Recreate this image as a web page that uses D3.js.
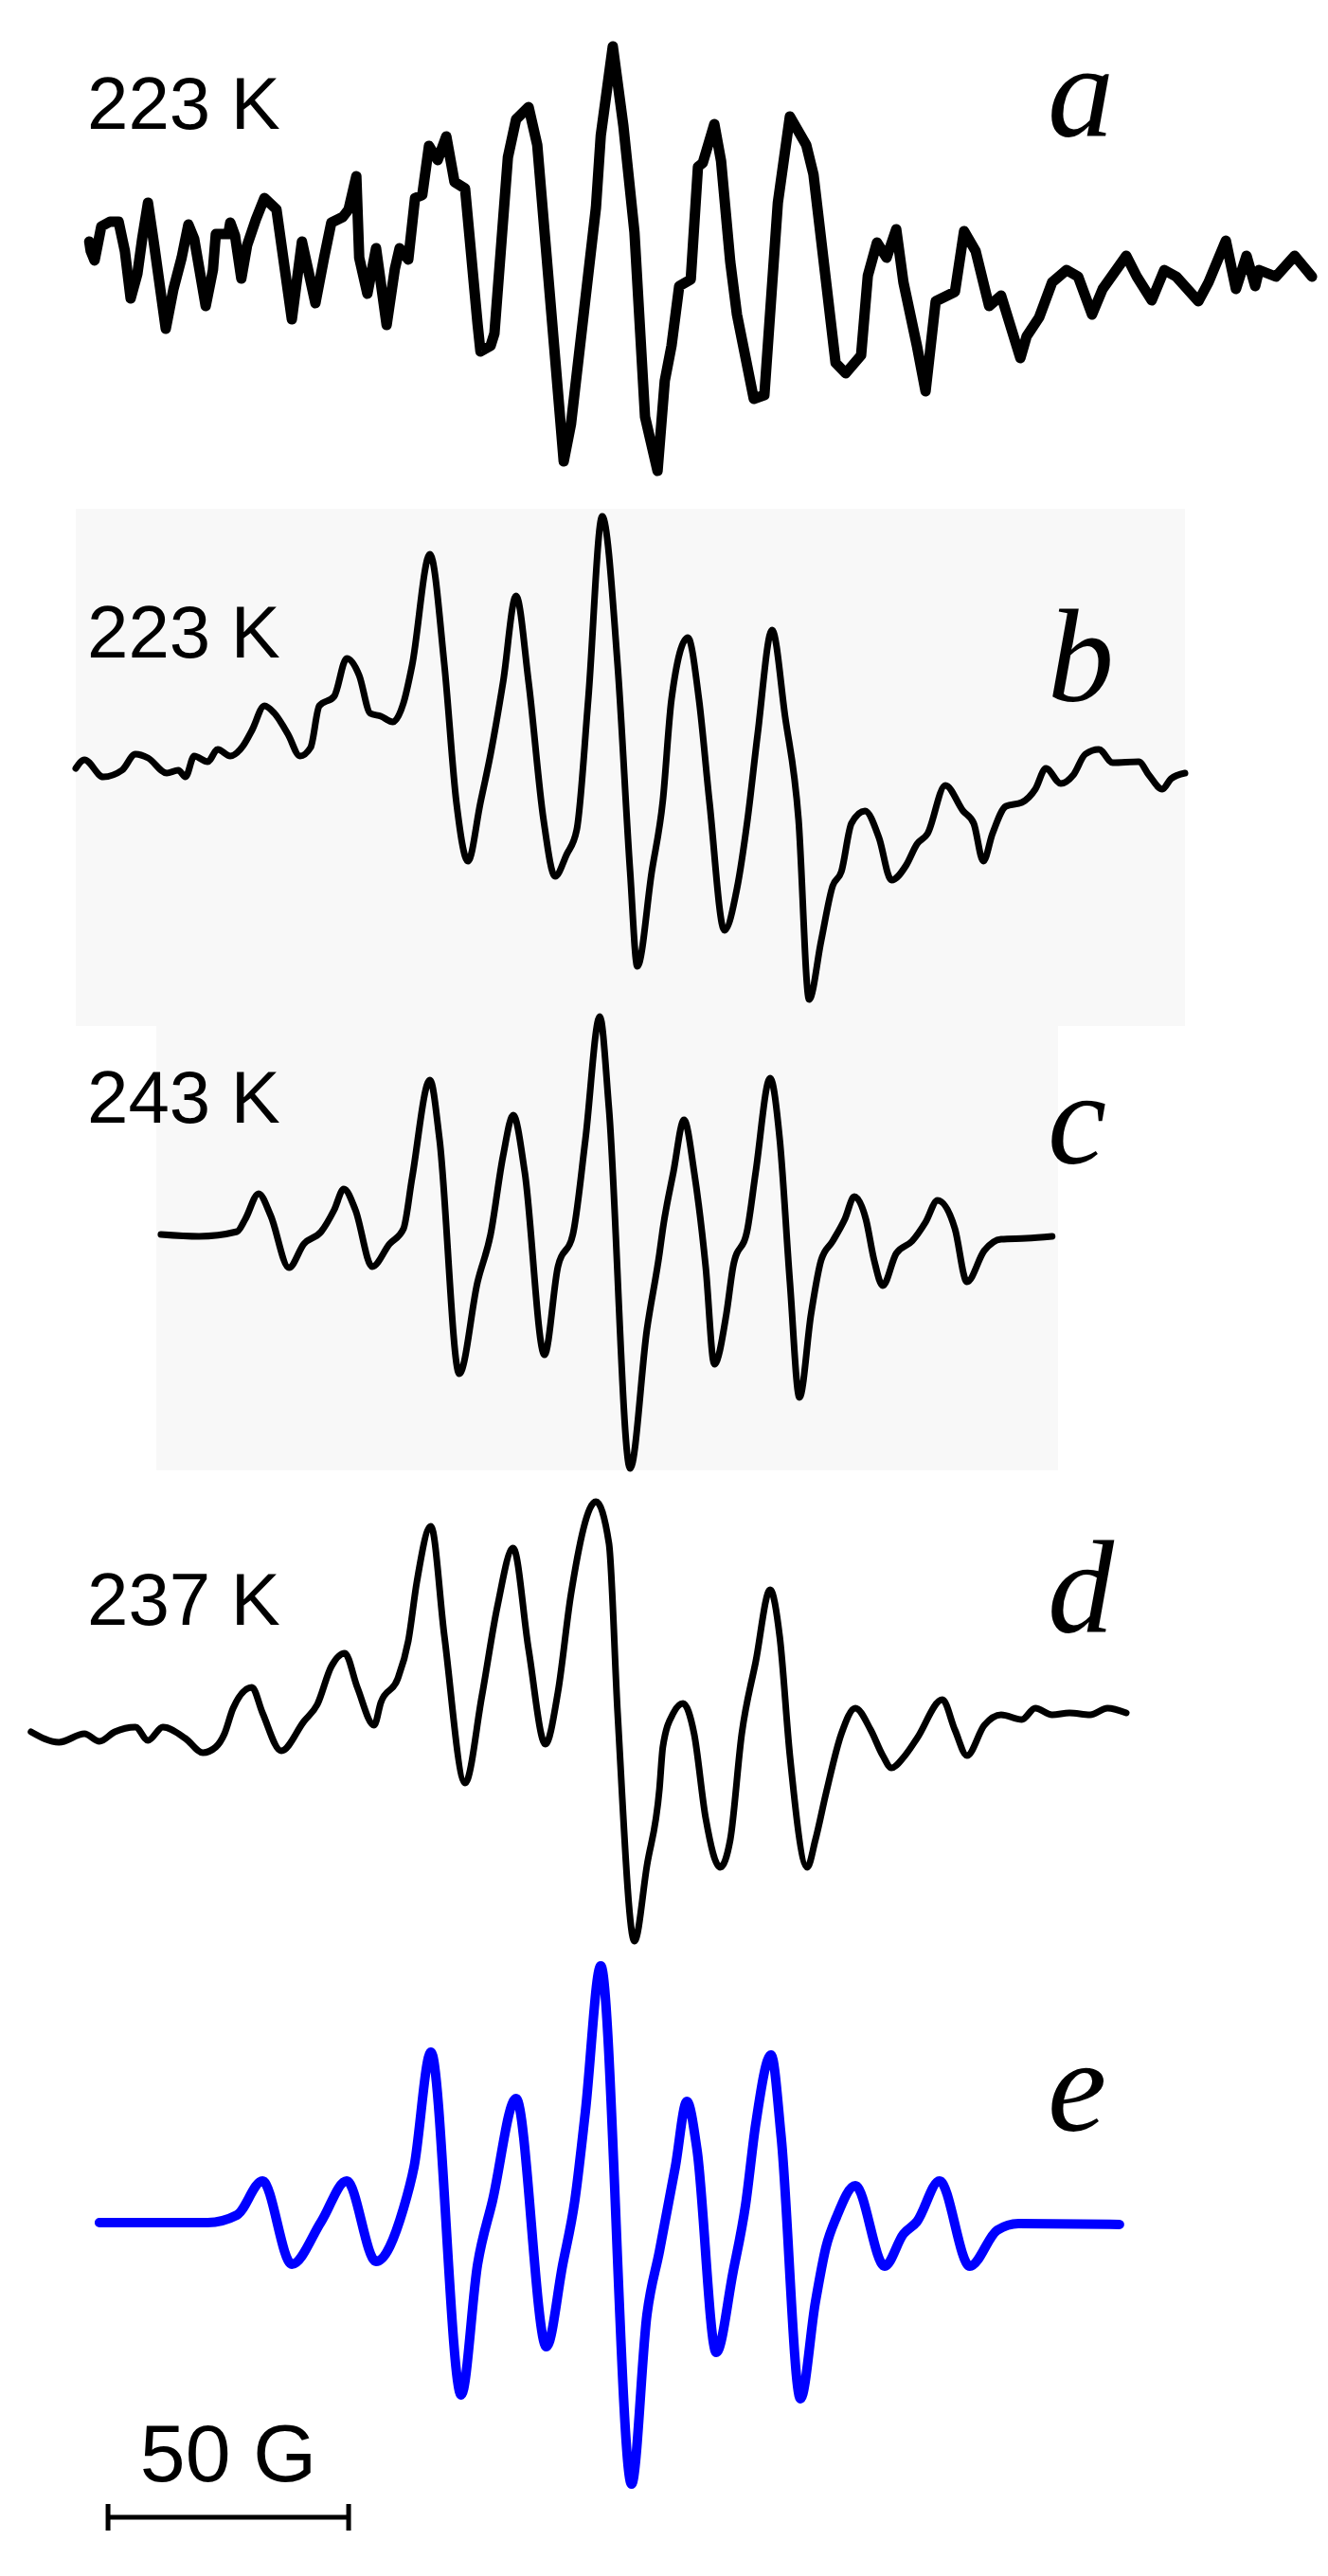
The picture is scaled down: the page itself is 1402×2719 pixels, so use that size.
<!DOCTYPE html>
<html>
<head>
<meta charset="utf-8">
<script src="https://cdn.jsdelivr.net/npm/d3@7/dist/d3.min.js"></script>
<style>
  html, body { margin: 0; padding: 0; background: #ffffff; }
  svg { display: block; }
</style>
</head>
<body>
<svg id="chart" width="1402" height="2719"></svg>
<script>
// ---------------- DATA (field offset in gauss, amplitude in a.u.) ----------------
const panelLetters = ["a", "b", "c", "d", "e"];
const temperatureLabels = ["223 K", "223 K", "243 K", "237 K", ""];
const scaleBarLabel = "50 G";
const scaleBarStart = -105.5;   // G
const scaleBarLength = 50;      // G

// a: 223 K (noisy, stepped)
const spectrumA = [
  [-109.4,0.5],[-109.1,-0.5],[-108.3,-1.5],[-106.9,2.1],[-105.1,2.6],[-103.3,2.6],[-102.0,-0.5],
  [-100.8,-5.5],[-99.4,-2.9],[-98.4,0.8],[-97.2,4.6],[-95.9,0.1],[-93.5,-8.7],[-91.9,-4.5],
  [-90.2,-1.2],[-88.8,2.3],[-87.6,0.8],[-85.2,-6.3],[-83.7,-2.5],[-83.1,1.3],[-80.5,1.3],
  [-80.1,2.5],[-79.1,1.1],[-77.8,-3.4],[-76.6,0.1],[-74.8,2.8],[-73.0,5.1],[-70.5,3.9],
  [-67.3,-7.7],[-65.2,0.5],[-62.4,-6.0],[-60.6,-1.2],[-59.1,2.5],[-56.7,3.1],[-55.5,3.9],
  [-53.9,7.4],[-53.3,-1.2],[-51.6,-5.0],[-49.8,-0.2],[-47.6,-8.3],[-45.9,-2.4],[-44.9,-0.2],
  [-43.1,-1.4],[-41.7,5.1],[-40.2,5.4],[-38.8,10.6],[-37.0,9.1],[-35.2,11.6],[-33.5,6.8],
  [-31.3,6.1],[-28.7,-8.2],[-28.1,-11.1],[-26.0,-10.5],[-25.2,-9.2],[-22.4,9.4],[-20.7,13.4],
  [-18.1,14.7],[-16.3,10.7],[-12.8,-10.5],[-10.8,-22.7],[-9.3,-18.8],[-4.1,4.1],[-3.1,11.7],
  [-0.6,21.1],[1.6,12.7],[3.9,1.5],[6.1,-18.0],[8.7,-23.7],[10.2,-14.2],[11.6,-10.5],
  [13.2,-4.2],[15.6,-3.5],[17.1,8.4],[18.1,8.8],[20.5,12.9],[21.9,9.0],[23.8,-1.6],
  [25.2,-7.2],[28.7,-16.1],[30.9,-15.7],[33.7,4.6],[36.2,13.7],[39.6,10.7],[41.1,7.6],
  [45.7,-12.3],[47.8,-13.4],[51.0,-11.5],[52.4,-3.1],[54.3,0.4],[56.3,-1.2],[58.3,1.8],
  [59.8,-3.8],[62.6,-10.5],[64.4,-15.3],[66.5,-5.8],[70.5,-4.8],[72.4,1.6],[74.8,-0.5],
  [77.6,-6.3],[80.1,-5.2],[84.1,-11.8],[85.4,-9.5],[88.0,-7.5],[90.7,-3.8],[93.7,-2.5],
  [96.1,-3.2],[99.0,-7.2],[101.2,-4.5],[106.1,-1.0],[108.3,-3.2],[111.4,-5.7],[114.0,-2.5],
  [116.5,-3.2],[121.1,-5.8],[123.2,-3.8],[126.8,0.6],[128.9,-4.5],[131.1,-1.0],[132.9,-4.2],
  [133.7,-2.5],[137.2,-3.2],[141.1,-1.0],[144.7,-3.2]
];

// b: 223 K
const spectrumB = [
  [-112.2,0],[-110.4,0.9],[-106.5,-0.9],[-102.6,-0.2],[-99.8,1.5],[-97.2,1.1],[-93.3,-0.5],
  [-90.9,-0.2],[-89.4,-0.9],[-87.6,1.3],[-84.8,0.7],[-82.7,2.0],[-80.1,1.3],[-77.4,2.4],
  [-75.6,4.0],[-73.0,6.6],[-70.9,5.8],[-68.1,3.6],[-65.6,1.3],[-63.4,2.2],[-61.6,6.6],
  [-58.5,7.6],[-55.9,11.6],[-53.3,9.8],[-51.0,5.8],[-48.8,5.5],[-46.3,4.9],[-44.1,6.9],
  [-42.3,10.9],[-38.6,22.6],[-35.6,10.9],[-33.1,-3.6],[-30.7,-9.8],[-28.1,-3.6],[-26.0,1.5],
  [-23.4,9.1],[-20.7,18.2],[-18.1,9.1],[-15.0,-5.4],[-12.6,-11.4],[-10.2,-9.1],[-8.1,-6.5],
  [-5.7,7.3],[-2.8,26.6],[0.4,10.9],[3.0,-10.9],[4.5,-20.9],[7.5,-10.9],[9.8,-3.4],
  [11.6,7.3],[15.0,13.8],[17.3,7.3],[19.5,-3.6],[22.6,-17.1],[25.2,-12.7],[27.4,-5.4],
  [29.5,3.6],[32.5,14.6],[35.2,5.5],[38.0,-5.4],[40.2,-24.4],[42.7,-18.2],[45.1,-12.4],
  [46.9,-10.9],[49.0,-5.8],[51.8,-4.5],[54.7,-7.3],[57.3,-11.8],[60.4,-10.2],[62.6,-8.0],
  [64.8,-6.9],[68.5,-1.8],[72.2,-4.5],[74.4,-5.8],[76.4,-9.8],[78.3,-6.9],[81.1,-4.0],
  [84.4,-3.6],[87.2,-2.2],[89.4,0],[92.5,-1.6],[95.1,-0.7],[97.6,1.5],[100.4,2.0],
  [103.3,0.6],[108.7,0.7],[110.8,-0.7],[113.6,-2.2],[115.4,-1.1],[118.3,-0.5]
];

// c: 243 K
const spectrumC = [
  [-94.5,0],[-86.6,-0.2],[-78.7,0.3],[-77.0,1.6],[-74.2,4.3],[-71.7,2.0],[-67.9,-3.5],
  [-64.8,-1.0],[-61.2,0.3],[-58.5,2.6],[-56.5,4.8],[-54.1,2.6],[-50.6,-3.4],[-47.0,-1.0],
  [-44.1,0.6],[-42.3,6.0],[-38.6,16.3],[-36.6,10.0],[-32.5,-14.7],[-28.7,-5.0],[-26.0,0],
  [-23.4,8.3],[-21.3,12.6],[-18.9,6.6],[-14.8,-12.7],[-12.0,-3.4],[-8.9,0],[-6.3,10.0],
  [-3.3,23.0],[-1.4,13.3],[3.0,-24.7],[6.5,-10.0],[9.1,-2.0],[9.8,0.6],[12.0,6.6],
  [14.2,12.1],[16.3,6.6],[18.7,-3.4],[20.5,-13.7],[23.0,-8.4],[24.4,-3.4],[27.4,0.6],
  [29.1,6.6],[32.1,16.5],[34.1,10.0],[36.2,-5.0],[38.2,-17.2],[40.6,-8.4],[42.7,-2.7],
  [45.1,-0.7],[47.6,1.6],[49.6,4.0],[52.0,1.6],[53.7,-2.7],[55.5,-5.4],[58.3,-2.0],
  [61.6,-0.7],[64.4,1.3],[66.9,3.6],[70.5,0.6],[73.0,-5.0],[76.6,-1.7],[80.1,-0.5],
  [85.4,-0.4],[90.7,-0.2]
];

// d: 237 K
const spectrumD = [
  [-121.5,0],[-115.7,-1.1],[-110.4,-0.2],[-107.3,-1.0],[-104.1,0],[-99.8,0.5],[-97.2,-0.9],
  [-94.1,0.5],[-89.4,-0.7],[-85.8,-2.2],[-83.1,-1.6],[-81.3,-0.2],[-79.5,2.5],[-75.6,4.7],
  [-73.4,2.0],[-69.5,-2.0],[-64.8,1.1],[-62.0,2.9],[-59.1,6.9],[-56.3,8.3],[-53.7,4.7],
  [-50.2,0.7],[-48.8,3.1],[-45.3,5.6],[-43.1,9.6],[-41.3,15.9],[-38.4,21.7],[-35.6,10.1],
  [-31.3,-5.4],[-27.8,3.8],[-24.6,13.2],[-21.3,19.4],[-18.1,8.7],[-14.6,-1.3],[-12.0,4.2],
  [-9.3,14.5],[-4.1,24.3],[-1.4,19.9],[0.4,2.0],[3.9,-22.1],[6.5,-14.1],[9.1,-6.0],
  [9.8,-1.6],[12.0,2.0],[14.0,3.0],[16.3,-0.2],[18.7,-9.1],[21.7,-14.3],[23.8,-11.4],
  [26.2,-0.2],[29.1,7.4],[32.1,15.0],[34.1,10.0],[36.2,-2.5],[39.8,-14.3],[41.5,-11.4],
  [43.7,-6.5],[46.9,-0.2],[49.8,2.5],[53.0,0.2],[55.5,-2.5],[57.3,-3.8],[59.8,-2.7],
  [62.6,-0.7],[67.9,3.4],[70.5,0.2],[73.0,-2.5],[76.6,0.7],[80.1,1.8],[84.4,1.3],
  [87.2,2.5],[90.7,1.8],[94.3,2.0],[98.6,1.8],[102.2,2.5],[106.1,2.0]
];

// e: simulation
const spectrumE = [
  [-107.3,0],[-84.8,0],[-78.7,0.8],[-73.4,4.4],[-67.3,-4.4],[-61.2,0.1],[-55.9,4.4],
  [-49.8,-4.1],[-44.1,1.5],[-41.9,5.9],[-38.4,18.0],[-32.1,-18.2],[-28.7,-4.4],[-25.6,2.3],
  [-20.7,13.1],[-14.4,-13.1],[-11.0,-4.4],[-8.5,2.3],[-6.3,11.7],[-3.1,27.1],[3.3,-27.6],
  [6.5,-9.7],[9.1,-3.0],[12.4,5.9],[14.8,12.8],[16.9,7.7],[20.9,-13.7],[24.4,-5.2],
  [27.0,1.9],[29.1,10.4],[32.3,17.7],[34.4,9.0],[38.4,-18.6],[41.5,-8.4],[43.7,-2.6],
  [45.9,0.6],[49.8,3.9],[55.9,-4.6],[59.8,-1.2],[62.6,0.1],[67.3,4.4],[73.6,-4.6],
  [79.3,-0.8],[83.7,-0.1],[104.7,-0.2]
];

// ---------------- LAYOUT ----------------
const W = 1402, H = 2719;
const svg = d3.select("#chart").attr("width", W).attr("height", H);

const x = d3.scaleLinear().domain([-127.95, 148.03]).range([0, W]);

const panels = [
  { data: spectrumA, base: 260,  color: "#000", width: 11, curve: d3.curveLinear,
    tempY: 136, letterY: 144 },
  { data: spectrumB, base: 811,  color: "#000", width: 7,  curve: d3.curveMonotoneX,
    tempY: 694, letterY: 740, bg: [80, 537, 1251, 1083] },
  { data: spectrumC, base: 1303, color: "#000", width: 7,  curve: d3.curveMonotoneX,
    tempY: 1185, letterY: 1228, bg: [165, 1078, 1117, 1552] },
  { data: spectrumD, base: 1828, color: "#000", width: 7,  curve: d3.curveMonotoneX,
    tempY: 1715, letterY: 1723 },
  { data: spectrumE, base: 2346, color: "#0000ff", width: 10, curve: d3.curveMonotoneX,
    tempY: 0, letterY: 2249 }
];

// backgrounds first
panels.forEach(p => {
  if (p.bg) {
    svg.append("rect")
      .attr("x", p.bg[0]).attr("y", p.bg[1])
      .attr("width", p.bg[2] - p.bg[0]).attr("height", p.bg[3] - p.bg[1])
      .attr("fill", "#f8f8f8");
  }
});

panels.forEach((p, i) => {
  const y = d3.scaleLinear().domain([-30, 30]).range([p.base + 300, p.base - 300]);
  const line = d3.line().x(d => x(d[0])).y(d => y(d[1])).curve(p.curve);
  svg.append("path")
    .datum(p.data)
    .attr("d", line)
    .attr("fill", "none")
    .attr("stroke", p.color)
    .attr("stroke-width", p.width)
    .attr("stroke-linejoin", "round")
    .attr("stroke-linecap", "round");

  if (temperatureLabels[i]) {
    svg.append("text")
      .attr("x", 92).attr("y", p.tempY)
      .attr("font-family", "Liberation Sans, Arial, sans-serif")
      .attr("font-size", 78)
      .attr("fill", "#000")
      .text(temperatureLabels[i]);
  }
  svg.append("text")
    .attr("x", 1106).attr("y", p.letterY)
    .attr("font-family", "Liberation Serif, Times New Roman, serif")
    .attr("font-style", "italic")
    .attr("font-size", 140)
    .attr("fill", "#000")
    .text(panelLetters[i]);
});

// scale bar
const barY = 2657;
const bx0 = x(scaleBarStart), bx1 = x(scaleBarStart + scaleBarLength);
const bar = svg.append("g").attr("stroke", "#000").attr("stroke-width", 5);
bar.append("line").attr("x1", bx0).attr("x2", bx1).attr("y1", barY).attr("y2", barY);
bar.append("line").attr("x1", bx0).attr("x2", bx0).attr("y1", barY - 14).attr("y2", barY + 14);
bar.append("line").attr("x1", bx1).attr("x2", bx1).attr("y1", barY - 14).attr("y2", barY + 14);
svg.append("text")
  .attr("x", (bx0 + bx1) / 2).attr("y", 2619)
  .attr("text-anchor", "middle")
  .attr("font-family", "Liberation Sans, Arial, sans-serif")
  .attr("font-size", 86)
  .attr("fill", "#000")
  .text(scaleBarLabel);
</script>
</body>
</html>
